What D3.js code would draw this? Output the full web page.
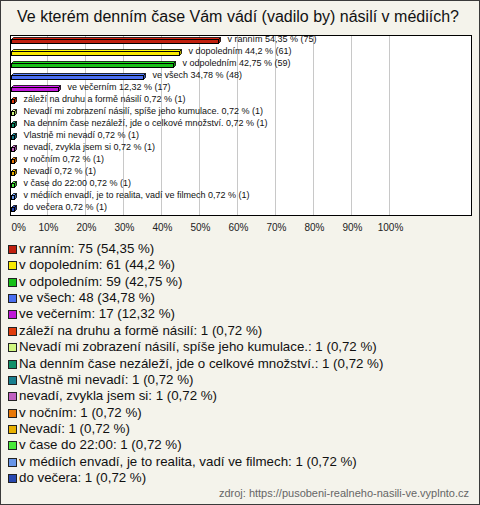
<!DOCTYPE html>
<html>
<head>
<meta charset="utf-8">
<script src="https://cdn.jsdelivr.net/npm/d3@7"></script>
<style>
  body { margin: 0; background: #fff; }
  svg { display: block; font-family: "Liberation Sans", Arial, sans-serif; }
</style>
</head>
<body>
<script>
const title = "Ve kterém denním čase Vám vádí (vadilo by) násilí v médiích?";
const source = "zdroj: https://pusobeni-realneho-nasili-ve.vyplnto.cz";

const categories = [
    "v ranním",
    "v dopoledním",
    "v odpoledním",
    "ve všech",
    "ve večerním",
    "záleží na druhu a formě násilí",
    "Nevadí mi zobrazení násilí, spíše jeho kumulace.",
    "Na denním čase nezáleží, jde o celkové množství.",
    "Vlastně mi nevadí",
    "nevadí, zvykla jsem si",
    "v nočním",
    "Nevadí",
    "v čase do 22:00",
    "v médiích envadí, je to realita, vadí ve filmech",
    "do večera"
];
const counts = [75, 61, 59, 48, 17, 1, 1, 1, 1, 1, 1, 1, 1, 1, 1];
const percents = [54.35, 44.2, 42.75, 34.78, 12.32, 0.72, 0.72, 0.72, 0.72, 0.72, 0.72, 0.72, 0.72, 0.72, 0.72];
const colors = ["#c0200f", "#f8e800", "#18c018", "#4a6ef0", "#c018d8", "#e03c0c", "#d0f880",
    "#10906a", "#187e8e", "#c060c0", "#e87808", "#e8b000", "#48e838", "#6896e8", "#2848b0"];
const ticks = [0, 10, 20, 30, 40, 50, 60, 70, 80, 90, 100];

const W = 480, H = 505;
const plot = { left: 10, right: 471, top: 35, bottom: 215 };

const fmt = v => String(v).replace(".", ",");

const svg = d3.select("body").append("svg")
    .attr("width", W)
    .attr("height", H);

// background + frame
svg.append("rect")
    .attr("x", 0.5).attr("y", 0.5)
    .attr("width", W - 1).attr("height", H - 1)
    .attr("fill", "#f4f3eb")
    .attr("stroke", "#3a3a3a");

svg.append("text")
    .attr("x", W / 2 - 2)
    .attr("y", 22)
    .attr("text-anchor", "middle")
    .attr("font-size", 16)
    .attr("fill", "#111")
    .text(title);

// scales
const xScale = d3.scaleLinear().domain([0, 100]).range([plot.left + 1, plot.left + 381]);
const yScale = d3.scaleBand()
    .domain(d3.range(categories.length))
    .range([plot.top, plot.bottom]);

svg.append("rect")
    .attr("x", plot.left + 0.5).attr("y", plot.top + 0.5)
    .attr("width", plot.right - plot.left).attr("height", plot.bottom - plot.top)
    .attr("fill", "#fff");

// grid
svg.append("g")
    .selectAll("line")
    .data(ticks.slice(1))
    .enter()
    .append("line")
    .attr("x1", d => Math.round(xScale(d)) - 1.5)
    .attr("x2", d => Math.round(xScale(d)) - 1.5)
    .attr("y1", plot.top)
    .attr("y2", plot.bottom)
    .attr("stroke", "#c8c8c8");

svg.append("rect")
    .attr("x", plot.left + 0.5).attr("y", plot.top + 0.5)
    .attr("width", plot.right - plot.left).attr("height", plot.bottom - plot.top)
    .attr("fill", "none")
    .attr("stroke", "#000");

// x axis
const xAxis = d3.axisBottom(xScale)
    .tickValues(ticks)
    .tickFormat(d => d + "%")
    .tickSize(0)
    .tickPadding(0);

const axisG = svg.append("g")
    .attr("transform", "translate(-1," + 224 + ")")
    .call(xAxis);
axisG.select(".domain").remove();
axisG.selectAll("text")
    .attr("font-family", "Liberation Sans, Arial, sans-serif")
    .attr("font-size", 10)
    .attr("fill", "#222");
axisG.selectAll(".tick").filter(d => d === 0).select("text")
    .attr("text-anchor", "start")
    .attr("x", 1);

// 3D-ish bars
const depth = 2, barH = 4;
const rows = svg.append("g");
categories.forEach(function (name, i) {
    const cy = yScale(i) + yScale.bandwidth() / 2 + 0.5;
    const x0 = xScale(0) + 0.5;
    const x1 = Math.round(xScale(percents[i])) + 0.5;
    const top = Math.round(cy - barH / 2) - 0.5;
    const g = rows.append("g");
    const dark = d3.color(colors[i]).darker(0.9);
    // top face
    g.append("path")
        .attr("d", `M${x0},${top} L${x0 + depth},${top - depth} L${x1 + depth},${top - depth} L${x1},${top} Z`)
        .attr("fill", d3.color(colors[i]).brighter(0.4))
        .attr("stroke", "#000")
        .attr("stroke-width", 0.8);
    // side face
    g.append("path")
        .attr("d", `M${x1},${top} L${x1 + depth},${top - depth} L${x1 + depth},${top + barH - depth} L${x1},${top + barH} Z`)
        .attr("fill", dark)
        .attr("stroke", "#000")
        .attr("stroke-width", 0.8);
    // front
    g.append("rect")
        .attr("x", x0).attr("y", top)
        .attr("width", x1 - x0).attr("height", barH)
        .attr("fill", colors[i])
        .attr("stroke", "#000")
        .attr("stroke-width", 1);

    g.append("text")
        .attr("x", x1 + depth + 7)
        .attr("y", cy + 0.5)
        .attr("font-size", 9)
        .attr("fill", "#111")
        .text(name + " " + fmt(percents[i]) + " % (" + counts[i] + ")");
});

// legend
const legend = svg.append("g").attr("id", "legend");
const legendY = d3.scaleLinear().domain([0, 14]).range([245, 474]);
categories.forEach(function (name, i) {
    legend.append("rect")
        .attr("x", 8.5).attr("y", Math.round(legendY(i)) + 0.5)
        .attr("width", 8).attr("height", 8)
        .attr("fill", colors[i])
        .attr("stroke", "#222");
    legend.append("text")
        .attr("x", 19)
        .attr("y", Math.round(legendY(i)) + 7.5)
        .attr("font-size", 13.3)
        .attr("fill", "#111")
        .text(name + ": " + counts[i] + " (" + fmt(percents[i]) + " %)");
});

svg.append("text")
    .attr("x", 469)
    .attr("y", 497)
    .attr("text-anchor", "end")
    .attr("font-size", 11)
    .attr("fill", "#666")
    .text(source);
</script>
</body>
</html>
